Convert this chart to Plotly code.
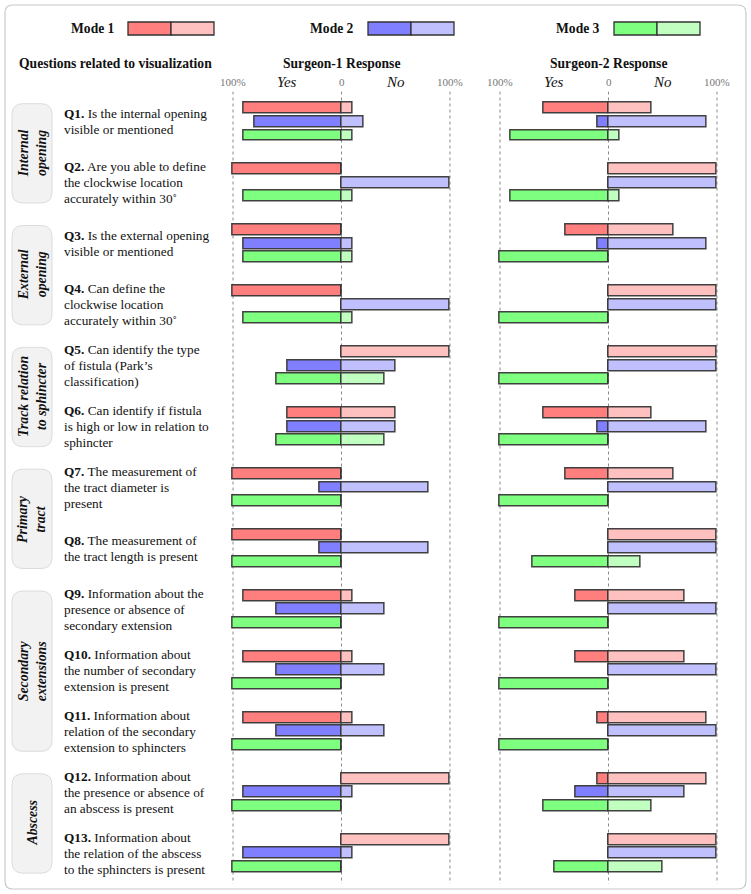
import plotly.graph_objects as go

# ---------------- data ----------------
questions = [
    ["<b>Q1.</b> Is the internal opening", "visible or mentioned"],
    ["<b>Q2.</b> Are you able to define", "the clockwise location", "accurately within 30˚"],
    ["<b>Q3.</b> Is the external opening", "visible or mentioned"],
    ["<b>Q4.</b> Can define the", "clockwise location", "accurately within 30˚"],
    ["<b>Q5.</b> Can identify the type", "of fistula (Park’s", "classification)"],
    ["<b>Q6.</b> Can identify if fistula", "is high or low in relation to", "sphincter"],
    ["<b>Q7.</b> The measurement of", "the tract diameter is", "present"],
    ["<b>Q8.</b> The measurement of", "the tract length is present"],
    ["<b>Q9.</b> Information about the", "presence or absence of", "secondary extension"],
    ["<b>Q10.</b> Information about", "the number of secondary", "extension is present"],
    ["<b>Q11.</b> Information about", "relation of the secondary", "extension to sphincters"],
    ["<b>Q12.</b> Information about", "the presence or absence of", "an abscess is present"],
    ["<b>Q13.</b> Information about", "the relation of the abscess", "to the sphincters is present"],
]
groups = ["Internal<br>opening", "External<br>opening", "Track relation<br>to sphincter",
          "Primary<br>tract", "Secondary<br>extensions", "Abscess"]
group_first = [0, 2, 4, 6, 8, 11]
group_last = [1, 3, 5, 7, 10, 12]
modes = ["Mode 1", "Mode 2", "Mode 3"]

s1_yes_m1 = [90, 100, 100, 100, 0, 50, 100, 100, 90, 90, 90, 0, 0]
s1_no_m1 = [10, 0, 0, 0, 100, 50, 0, 0, 10, 10, 10, 100, 100]
s1_yes_m2 = [80, 0, 90, 0, 50, 50, 20, 20, 60, 60, 60, 90, 90]
s1_no_m2 = [20, 100, 10, 100, 50, 50, 80, 80, 40, 40, 40, 10, 10]
s1_yes_m3 = [90, 90, 90, 90, 60, 60, 100, 100, 100, 100, 100, 100, 100]
s1_no_m3 = [10, 10, 10, 10, 40, 40, 0, 0, 0, 0, 0, 0, 0]

s2_yes_m1 = [60, 0, 40, 0, 0, 60, 40, 0, 30, 30, 10, 10, 0]
s2_no_m1 = [40, 100, 60, 100, 100, 40, 60, 100, 70, 70, 90, 90, 100]
s2_yes_m2 = [10, 0, 10, 0, 0, 10, 0, 0, 0, 0, 0, 30, 0]
s2_no_m2 = [90, 100, 90, 100, 100, 90, 100, 100, 100, 100, 100, 70, 100]
s2_yes_m3 = [90, 90, 100, 100, 100, 100, 100, 70, 100, 100, 100, 60, 50]
s2_no_m3 = [10, 10, 0, 0, 0, 0, 0, 30, 0, 0, 0, 40, 50]

panels = [
    ("Surgeon-1 Response", "x", [(s1_yes_m1, s1_no_m1), (s1_yes_m2, s1_no_m2), (s1_yes_m3, s1_no_m3)]),
    ("Surgeon-2 Response", "x2", [(s2_yes_m1, s2_no_m1), (s2_yes_m2, s2_no_m2), (s2_yes_m3, s2_no_m3)]),
]

# ---------------- style ----------------
W, H = 751, 894
dark = ["#ff7f7f", "#7f7fff", "#7fff7f"]
light = ["#ffc0c0", "#c0c0ff", "#c0ffc0"]
mode_offset = [-0.222, 0.0, 0.222]
bar_w = 0.18
edge = dict(color="rgba(55,55,55,0.95)", width=1.5)
FONT = "Liberation Serif"
ROW_PX = 60.9          # pixels per question row
LINE_PX = 16.0         # line spacing of question text

def px(x):
    return x / W

def py(y):
    return 1 - y / H

fig = go.Figure()

n = len(questions)
for title, xa, series in panels:
    for m, (yes, no) in enumerate(series):
        ys = [i + mode_offset[m] for i in range(n)]
        fig.add_trace(go.Bar(y=ys, x=[-v for v in yes], orientation="h", xaxis=xa, yaxis="y",
                             marker=dict(color=dark[m], line=edge), width=bar_w,
                             showlegend=False, name=modes[m] + " Yes"))
        fig.add_trace(go.Bar(y=ys, x=no, orientation="h", xaxis=xa, yaxis="y",
                             marker=dict(color=light[m], line=edge), width=bar_w,
                             showlegend=False, name=modes[m] + " No"))

shapes = []
annotations = []

# outer rounded border
x0, x1, y0, y1 = px(5), px(746), py(889), py(5)
rx, ry = 8 / W, 8 / H
shapes.append(dict(type="path", xref="paper", yref="paper", layer="below",
                   path=(f"M{x0+rx},{y1} L{x1-rx},{y1} Q{x1},{y1} {x1},{y1-ry} L{x1},{y0+ry} "
                         f"Q{x1},{y0} {x1-rx},{y0} L{x0+rx},{y0} Q{x0},{y0} {x0},{y0+ry} "
                         f"L{x0},{y1-ry} Q{x0},{y1} {x0+rx},{y1} Z"),
                   line=dict(color="#c8c8c8", width=1.2), fillcolor="rgba(0,0,0,0)"))

# gridlines (dotted) and top tick labels
for title, xa, series in panels:
    for v in (-100, 0, 100):
        shapes.append(dict(type="line", xref=xa, yref="y", x0=v, x1=v, y0=-0.5, y1=12.53,
                           line=dict(color="#8a8a8a", width=1, dash="dot"), layer="below"))
    for v, t, big in ((-100, "100%", False), (-50, "<i>Yes</i>", True), (0, "0", False),
                      (50, "<i>No</i>", True), (100, "100%", False)):
        annotations.append(dict(xref=xa, yref="paper", x=v, y=py(82), text=t, showarrow=False,
                                xanchor="center", yanchor="middle",
                                font=dict(family=FONT, size=15 if big else 11,
                                          color="#111" if big else "#777")))
    annotations.append(dict(xref=xa, yref="paper", x=0, y=py(64), text=f"<b>{title}</b>",
                            showarrow=False, xanchor="center", yanchor="middle",
                            font=dict(family=FONT, size=13.6, color="#111")))

annotations.append(dict(xref="paper", yref="paper", x=px(115), y=py(64),
                        text="<b>Questions related to visualization</b>", showarrow=False,
                        xanchor="center", yanchor="middle",
                        font=dict(family=FONT, size=13.6, color="#111")))

# legend
leg_text_x = [93, 332, 578]
leg_box_x = [128, 368, 614]
for m in range(3):
    annotations.append(dict(xref="paper", yref="paper", x=px(leg_text_x[m]), y=py(28),
                            text=f"<b>{modes[m]}</b>", showarrow=False, xanchor="center",
                            yanchor="middle", font=dict(family=FONT, size=13.6, color="#111")))
    bx = leg_box_x[m]
    for k, col in enumerate((dark[m], light[m])):
        shapes.append(dict(type="rect", xref="paper", yref="paper",
                           x0=px(bx + 43 * k), x1=px(bx + 43 * (k + 1)), y0=py(35), y1=py(22),
                           fillcolor=col, line=dict(color="#333", width=1.3)))

# question labels, one annotation per line for exact line spacing
for i, lines in enumerate(questions):
    nl = len(lines)
    for k, line in enumerate(lines):
        yk = i + (k - (nl - 1) / 2) * LINE_PX / ROW_PX
        annotations.append(dict(xref="paper", yref="y", x=px(62), y=yk, text=line,
                                showarrow=False, xanchor="left", yanchor="middle", align="left",
                                font=dict(family=FONT, size=13.3, color="#111")))

# group boxes
gx0, gx1 = px(12), px(52)
grx, gry = 11 / W, 11 / ROW_PX
for g, f, l in zip(groups, group_first, group_last):
    top, bot = f - 0.3, l + 0.33
    shapes.append(dict(type="path", xref="paper", yref="y", layer="below",
                       path=(f"M{gx0+grx},{top} L{gx1-grx},{top} Q{gx1},{top} {gx1},{top+gry} "
                             f"L{gx1},{bot-gry} Q{gx1},{bot} {gx1-grx},{bot} L{gx0+grx},{bot} "
                             f"Q{gx0},{bot} {gx0},{bot-gry} L{gx0},{top+gry} Q{gx0},{top} {gx0+grx},{top} Z"),
                       fillcolor="#f2f2f2", line=dict(color="#dcdcdc", width=1)))
    annotations.append(dict(xref="paper", yref="y", x=px(32), y=(top + bot) / 2,
                            text=f"<b><i>{g}</i></b>", textangle=-90, showarrow=False,
                            xanchor="center", yanchor="middle", align="center",
                            font=dict(family=FONT, size=13.8, color="#111")))

fig.update_layout(
    width=W, height=H, margin=dict(l=0, r=0, t=0, b=0),
    paper_bgcolor="white", plot_bgcolor="rgba(0,0,0,0)",
    barmode="overlay", bargap=0,
    xaxis=dict(domain=[px(227.6), px(455.4)], range=[-105, 105], visible=False, anchor="y"),
    xaxis2=dict(domain=[px(494.6), px(722.4)], range=[-105, 105], visible=False, anchor="y"),
    yaxis=dict(domain=[py(883.5), py(91.5)], range=[12.5, -0.5], visible=False, anchor="x"),
    shapes=shapes, annotations=annotations,
)

fig.write_html("out.html")
